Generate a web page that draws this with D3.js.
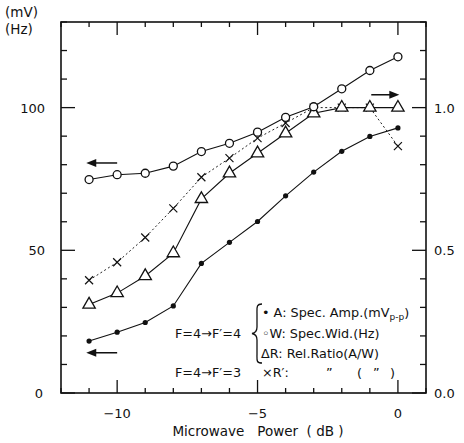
<!DOCTYPE html>
<html>
<head>
<meta charset="utf-8">
<script src="https://cdn.jsdelivr.net/npm/d3@7"></script>
<style>
  body { margin: 0; background: #fff; }
  svg { font-family: "DejaVu Sans", sans-serif; }
  text { fill: #111; white-space: pre; }
</style>
</head>
<body>
<div id="chart"></div>
<script>
(() => {
// microwave power (dB)
const power = [-11, -10, -9, -8, -7, -6, -5, -4, -3, -2, -1, 0];
// F=4 -> F'=4
const specAmp = [18.2, 21.3, 24.7, 30.5, 45.4, 52.8, 60.1, 69.1, 77.4, 84.7, 89.9, 92.9];   // mV
const specWid = [74.8, 76.5, 77.0, 79.5, 84.6, 87.5, 91.4, 96.6, 100.3, 106.6, 113.0, 117.8]; // Hz
const relRatio = [0.31, 0.35, 0.41, 0.49, 0.68, 0.77, 0.84, 0.91, 0.98, 1.0, 1.0, 1.0];
// F=4 -> F'=3
const relRatio2 = [0.395, 0.458, 0.545, 0.647, 0.756, 0.823, 0.893, 0.946, 1.0, 1.0, 1.0, 0.865];

const xMajor = [-10, -5, 0];
const yLeftMajor = [0, 50, 100];
const yRightMajor = [0, 0.5, 1.0];

const width = 464, height = 443;
const margin = { top: 22, right: 38, bottom: 50, left: 61 };

const svg = d3.select('#chart').append('svg')
    .attr('width', width)
    .attr('height', height);

const x = d3.scaleLinear().domain([-12, 1]).range([margin.left, width - margin.right]);
const y = d3.scaleLinear().domain([0, 130]).range([height - margin.bottom, margin.top]);
const yR = d3.scaleLinear().domain([0, 1.3]).range([height - margin.bottom, margin.top]);

const x0 = x.range()[0], x1 = x.range()[1];
const y0 = y.range()[0], y1 = y.range()[1];

// frame
svg.append('rect')
    .attr('x', x0).attr('y', y1)
    .attr('width', x1 - x0).attr('height', y0 - y1)
    .attr('fill', 'none').attr('stroke', '#111').attr('stroke-width', 1.6);

// inward ticks
const ticks = svg.append('g').attr('stroke', '#111').attr('stroke-width', 1.3);
d3.range(-12, 2, 1).forEach(v => {
    const len = xMajor.includes(v) ? 13 : 5;
    ticks.append('line').attr('x1', x(v)).attr('x2', x(v)).attr('y1', y0).attr('y2', y0 - len);
    ticks.append('line').attr('x1', x(v)).attr('x2', x(v)).attr('y1', y1).attr('y2', y1 + len);
});
d3.range(0, 131, 10).forEach(v => {
    const len = yLeftMajor.includes(v) ? 14 : 6;
    ticks.append('line').attr('x1', x0).attr('x2', x0 + len).attr('y1', y(v)).attr('y2', y(v));
});
d3.range(0, 14, 1).map(v => v / 10).forEach(v => {
    const len = yRightMajor.some(m => Math.abs(m - v) < 1e-9) ? 14 : 6;
    ticks.append('line').attr('x1', x1).attr('x2', x1 - len).attr('y1', yR(v)).attr('y2', yR(v));
});

// tick labels
svg.selectAll('.xl').data(xMajor).enter().append('text')
    .attr('x', d => x(d)).attr('y', y0 + 25)
    .attr('text-anchor', 'middle').attr('font-size', 13)
    .text(d => d === 0 ? '0' : '\u2212' + Math.abs(d));
svg.selectAll('.yl').data(yLeftMajor).enter().append('text')
    .attr('x', d => d === 0 ? 43 : 45).attr('y', d => y(d) + 5)
    .attr('text-anchor', 'end').attr('font-size', 13)
    .text(d => d);
svg.selectAll('.yr').data(yRightMajor).enter().append('text')
    .attr('x', x1 + 8).attr('y', d => yR(d) + 5)
    .attr('font-size', 13)
    .text(d => d.toFixed(1));

svg.append('text').attr('x', 5).attr('y', 17).attr('font-size', 13.5).text('(mV)');
svg.append('text').attr('x', 5).attr('y', 34).attr('font-size', 13.5).text('(Hz)');
svg.append('text').attr('x', 258).attr('y', height - 7)
    .attr('text-anchor', 'middle').attr('font-size', 13.5)
    .text('Microwave   Power  ( dB )');

// series
const line = d3.line().x(d => x(d[0])).y(d => d[1]);
const pts = (vals, sc) => power.map((p, i) => [p, sc(vals[i])]);

const crossPts = pts(relRatio2, yR);
svg.append('path').attr('d', line(crossPts))
    .attr('fill', 'none').attr('stroke', '#222').attr('stroke-width', 1)
    .attr('stroke-dasharray', '2,2.5');
svg.append('path').attr('d', line(pts(relRatio, yR)))
    .attr('fill', 'none').attr('stroke', '#111').attr('stroke-width', 1.1);
svg.append('path').attr('d', line(pts(specWid, y)))
    .attr('fill', 'none').attr('stroke', '#111').attr('stroke-width', 1.1);
svg.append('path').attr('d', line(pts(specAmp, y)))
    .attr('fill', 'none').attr('stroke', '#111').attr('stroke-width', 1.1);

// markers
svg.selectAll('.cross').data(crossPts).enter().append('path')
    .attr('transform', d => `translate(${x(d[0])},${d[1]})`)
    .attr('d', 'M-4,-4L4,4M-4,4L4,-4')
    .attr('stroke', '#111').attr('stroke-width', 1.2);
svg.selectAll('.tri').data(pts(relRatio, yR)).enter().append('path')
    .attr('transform', d => `translate(${x(d[0])},${d[1]})`)
    .attr('d', d3.symbol(d3.symbolTriangle, 66)())
    .attr('fill', '#fff').attr('stroke', '#111').attr('stroke-width', 1.3);
svg.selectAll('.circ').data(pts(specWid, y)).enter().append('circle')
    .attr('cx', d => x(d[0])).attr('cy', d => d[1]).attr('r', 4)
    .attr('fill', '#fff').attr('stroke', '#111').attr('stroke-width', 1.3);
svg.selectAll('.dot').data(pts(specAmp, y)).enter().append('circle')
    .attr('cx', d => x(d[0])).attr('cy', d => d[1]).attr('r', 2.6)
    .attr('fill', '#111');

// arrows: [xFrom, xTo, yValue, axis]
const arrows = [[-10.0, -11.1, 80.6, 'L'], [-10.0, -11.1, 14.1, 'L'], [-0.95, 0.05, 1.045, 'R']];
arrows.forEach(a => {
    const yy = a[3] === 'L' ? y(a[2]) : yR(a[2]);
    const xa = x(a[0]), xb = x(a[1]);
    const dir = Math.sign(xb - xa);
    svg.append('line').attr('x1', xa).attr('x2', xb - dir * 8).attr('y1', yy).attr('y2', yy)
        .attr('stroke', '#111').attr('stroke-width', 1.5);
    svg.append('path')
        .attr('d', `M${xb},${yy}L${xb - dir * 10},${yy - 4}L${xb - dir * 10},${yy + 4}Z`)
        .attr('fill', '#111');
});

// legend
const lg = svg.append('g').attr('font-size', 12.8);
lg.append('text').attr('x', 175).attr('y', 338).text('F=4\u2192F\u2032=4');
lg.append('text').attr('x', 175).attr('y', 377).text('F=4\u2192F\u2032=3');
// curly brace
lg.append('path')
    .attr('d', 'M262,304 C256,304 257,308 257,314 L257,327 C257,331 255,333 252,333.5 C255,334 257,336 257,340 L257,354 C257,360 256,363 262,363')
    .attr('fill', 'none').attr('stroke', '#111').attr('stroke-width', 1.3);
const l1 = lg.append('text').attr('x', 262).attr('y', 317);
l1.append('tspan').text('\u2022 A: Spec. Amp.(mV');
l1.append('tspan').attr('font-size', 9).attr('dy', 3).text('p-p');
l1.append('tspan').attr('dy', -3).text(')');
lg.append('text').attr('x', 262).attr('y', 338).text('\u25E6W: Spec.Wid.(Hz)');
lg.append('text').attr('x', 261).attr('y', 358).text('\u0394R: Rel.Ratio(A/W)');
lg.append('text').attr('x', 262).attr('y', 377).text('\u00D7R\u2032:');
lg.append('text').attr('x', 326).attr('y', 377).text('\u201D');
lg.append('text').attr('x', 357).attr('y', 377).text('(');
lg.append('text').attr('x', 373).attr('y', 377).text('\u201D');
lg.append('text').attr('x', 390).attr('y', 377).text(')');
})();
</script>
</body>
</html>
